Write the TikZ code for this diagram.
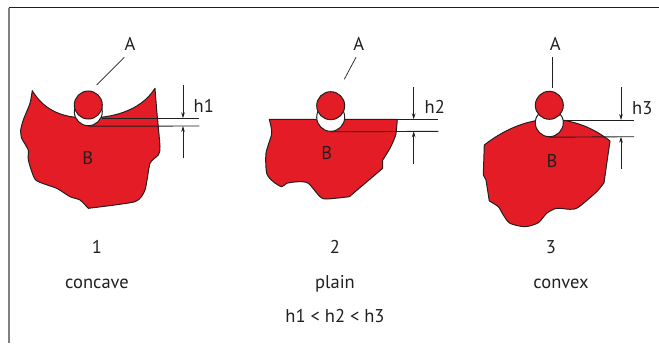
\documentclass[tikz,border=0pt]{standalone}
\usepackage{fontspec}
\setmainfont{PT Sans}
\usepackage{xcolor}
\usetikzlibrary{arrows.meta}
\definecolor{bodyred}{HTML}{E41C25}
\definecolor{inkgray}{HTML}{231F20}

\begin{document}
\begin{tikzpicture}[
    x=1pt, y=-1pt,
    body/.style={draw=inkgray, line width=1pt, fill=bodyred, line join=round},
    ball/.style={circle, draw=inkgray, line width=1pt, fill=bodyred, minimum size=28pt, inner sep=0pt},
    dent/.style={circle, draw=inkgray, line width=1pt, fill=white, minimum size=28pt, inner sep=0pt},
    lbl/.style={font=\fontsize{18.5}{20}\selectfont, text=inkgray, inner sep=0pt},
    leader/.style={draw=inkgray, line width=0.7pt},
    level/.style={draw=inkgray, line width=0.9pt},
    arr/.style={-{Stealth[length=6pt, width=3.6pt]}, draw=inkgray, line width=0.7pt},
]
\useasboundingbox (0,0) rectangle (659,343);

% Frame
\coordinate (frametl) at (9,7.5);
\coordinate (frametr) at (659,7.5);
\coordinate (framebl) at (9,343);
\draw[inkgray, line width=0.9pt] (frametl) -- (frametr);
\draw[gray, line width=1.2pt] (frametl) -- (framebl);

% Concave
\draw[body] (32.3,90.7) .. controls (45,112) and (65,118) .. (88,118)
    .. controls (110,118) and (140,112) .. (155,88.3)
    -- plot[smooth, tension=0.35] coordinates {(155,88.3) (156.7,110) (160,146.7) (158.3,155) (150,163.3) (145,190) (135,201.7) (88.3,208.3)}
    -- plot[smooth, tension=0.35] coordinates {(88.3,208.3) (80,200) (70,196.7) (56.7,188.3) (35.7,180) (28.3,160) (28.3,150) (21.7,138.3) (20.7,130) (23.3,120) (30,103.3) (32.3,90.7)}
    -- cycle;
\node[dent] (denta) at (88.3,111.7) {};
\node[ball] (balla) at (88.3,105) {};

% Plain
\draw[body] (269.3,119.3) -- (397.3,119.3)
    -- plot[smooth, tension=0.35] coordinates {(397.3,119.3) (395.7,135) (390,148.3) (382.7,160)}
    -- (382.7,168.3) -- (349.3,196.7)
    -- plot[smooth, tension=0.45] coordinates {(349.3,196.7) (326.7,199) (320,196.7) (308.3,183.3) (298.3,181.7) (286.7,183.3) (281.7,186.7) (273.3,181.7) (266.7,173.3) (266,153.3) (271.7,133.3) (269.3,119.3)}
    -- cycle;
\node[dent] (dentb) at (330.7,117.3) {};
\node[ball] (ballb) at (330.7,105.7) {};

% Convex
\draw[body] (484.3,145) .. controls (502,131) and (526,119.5) .. (550,119.3)
    .. controls (574,119.3) and (595,129) .. (610,141)
    -- (604,182.7)
    -- plot[smooth, tension=0.45] coordinates {(604,182.7) (596.7,191.7) (578.3,207.3) (570,209.3) (556.7,208.3) (546.7,213.3) (538.3,222.7) (525,226.7) (510,223.3) (503.3,215) (498.3,206.7) (489.3,201)}
    -- (486,180) -- (483.3,175) -- cycle;
\node[dent] (dentc) at (549.3,122.7) {};
\node[ball] (ballc) at (549.3,105.3) {};

% Labels A, B
\node[lbl] (aa) at (130,44) {A};
\node[lbl] (ab) at (358.7,44) {A};
\node[lbl] (ac) at (555.3,44) {A};
\node[lbl] (ba) at (87.7,158) {B};
\node[lbl] (bb) at (326.7,153.3) {B};
\node[lbl] (bc) at (552,160.7) {B};

% Leaders
\coordinate (starta) at (124.3,57.3);
\coordinate (tipa) at (96.7,85);
\coordinate (startb) at (356,57.3);
\coordinate (tipb) at (344.3,79.3);
\coordinate (startc) at (552,57.3);
\coordinate (tipc) at (552,88.3);
\draw[leader] (starta) -- (tipa);
\draw[leader] (startb) -- (tipb);
\draw[leader] (startc) -- (tipc);

% Levels
\coordinate (la0) at (101.7,118.3);
\coordinate (la1) at (199.3,118.3);
\coordinate (la2) at (199.3,126);
\coordinate (lb0) at (397.3,119.3);
\coordinate (lb1) at (438.3,119.3);
\coordinate (lb2) at (438.3,131.3);
\coordinate (lc0) at (563.3,120);
\coordinate (lc1) at (634,120);
\coordinate (lc2) at (634,136.7);
\draw[level] (la0) -- (la1);
\draw[level] (lb0) -- (lb1);
\draw[level] (lc0) -- (lc1);
\draw[level] (denta.south) -- (la2);
\draw[level] (dentb.south) -- (lb2);
\draw[level] (dentc.south) -- (lc2);

% Dimension arrows
\coordinate (ua) at (183,85);
\coordinate (da) at (183,158.3);
\coordinate (ub) at (413.7,86.7);
\coordinate (db) at (413.7,164);
\coordinate (uc) at (621,87.3);
\coordinate (dc) at (621,169.3);
\draw[arr] (ua) -- (ua |- la1);
\draw[arr] (da) -- (da |- la2);
\draw[arr] (ub) -- (ub |- lb1);
\draw[arr] (db) -- (db |- lb2);
\draw[arr] (uc) -- (uc |- lc1);
\draw[arr] (dc) -- (dc |- lc2);

\node[lbl, anchor=west] (ha) at (193.5,106) {h1};
\node[lbl, anchor=west] (hb) at (424.5,107.3) {h2};
\node[lbl, anchor=west] (hc) at (632,107.7) {h3};

% Captions
\node[lbl] (numa) at (97,247) {1};
\node[lbl] (numb) at (335,247) {2};
\node[lbl] (numc) at (551,247) {3};
\node[lbl] (capa) at (97,284) {concave};
\node[lbl] (capb) at (335,284) {plain};
\node[lbl] (capc) at (561,284) {convex};
\node[lbl] (rel) at (335,316) {h1 < h2 < h3};

\end{tikzpicture}
\end{document}
